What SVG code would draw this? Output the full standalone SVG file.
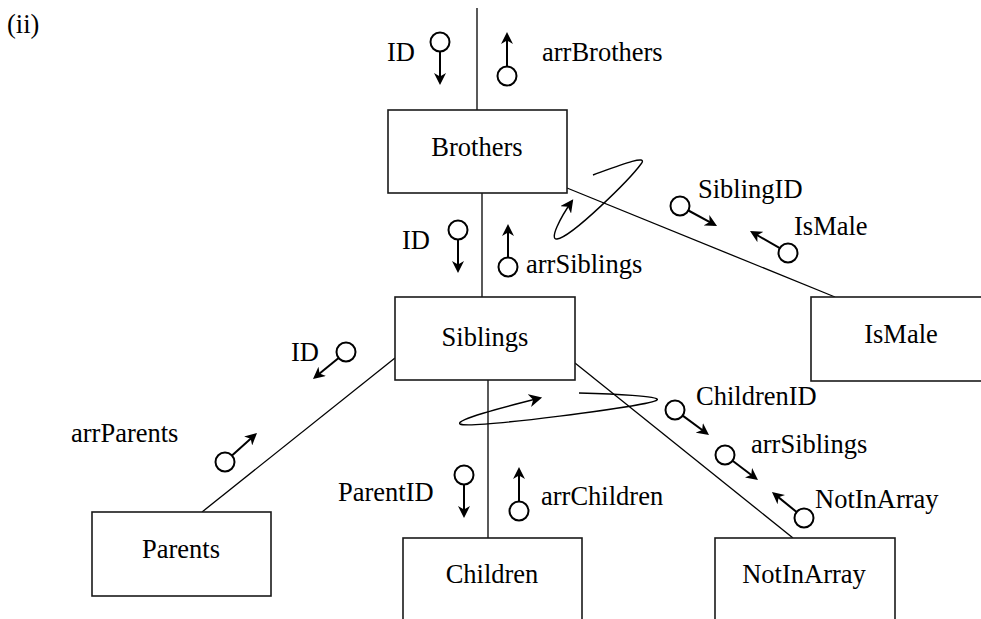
<svg xmlns="http://www.w3.org/2000/svg" width="981" height="619" viewBox="0 0 981 619">
  <style>
    .box { fill: #ffffff; stroke: #1a1a1a; stroke-width: 1.6; }
    .link { fill: none; stroke: #000000; stroke-width: 1.3; }
    .loop { fill: none; stroke: #000000; stroke-width: 1.4; }
    .flow { fill: none; stroke: #000000; stroke-width: 2; marker-end: url(#head); }
    .tail { fill: #ffffff; stroke: #000000; stroke-width: 2; }
    .t { font-family: 'Liberation Serif', 'DejaVu Serif', serif; font-size: 26.5px; fill: #000000; }
    .name { text-anchor: middle; }
  </style>
  <defs>
    <marker id="head" viewBox="0 0 12 12" refX="9" refY="6" markerWidth="12" markerHeight="12" markerUnits="userSpaceOnUse" orient="auto">
      <path d="M0,0 L12,6 L0,12 L3.5,6 z" fill="#000000"/>
    </marker>
    <marker id="loophead" viewBox="0 0 12 12" refX="10" refY="6" markerWidth="13" markerHeight="13" markerUnits="userSpaceOnUse" orient="auto">
      <path d="M0,0 L12,6 L0,12 L3.5,6 z" fill="#000000"/>
    </marker>
  </defs>

  <g class="t" font-family="Liberation Serif, DejaVu Serif, serif">
    <text x="7" y="33">(ii)</text>
  </g>

  <!-- structure chart connectors -->
  <g id="connectors">
    <line class="link" x1="477" y1="8" x2="477" y2="110"/>
    <line class="link" x1="482" y1="193" x2="482" y2="297"/>
    <line class="link" x1="567" y1="188" x2="835" y2="297"/>
    <line class="link" x1="395" y1="358" x2="202" y2="512"/>
    <line class="link" x1="488" y1="380" x2="488" y2="538"/>
    <line class="link" x1="575" y1="363" x2="793" y2="538"/>
    <!-- iteration loops -->
    <path class="loop" marker-end="url(#loophead)" d="M593,175 C615,167 650,153 641,164 C630,179 572,237 557,239 C549,240 560,218 572,201"/>
    <path class="loop" marker-end="url(#loophead)" d="M579,393 C612,394 662,396 657,400 C650,406 470,429 460,424 C455,420 500,408 540,398"/>
  </g>

  <!-- data couples -->
  <g id="couples">
    <circle class="tail" cx="440" cy="42" r="9.5"/>
    <line class="flow" x1="440" y1="51.5" x2="440" y2="82"/>
    <circle class="tail" cx="507" cy="76" r="9.5"/>
    <line class="flow" x1="507" y1="66.5" x2="507" y2="35"/>
    <circle class="tail" cx="458" cy="230" r="9.5"/>
    <line class="flow" x1="458" y1="239.5" x2="458" y2="270"/>
    <circle class="tail" cx="508" cy="267" r="9.5"/>
    <line class="flow" x1="508" y1="257.5" x2="508" y2="227"/>
    <circle class="tail" cx="680" cy="206" r="9.5"/>
    <line class="flow" x1="688.4" y1="210.5" x2="714.4" y2="224.6"/>
    <circle class="tail" cx="788" cy="253" r="9.5"/>
    <line class="flow" x1="779.8" y1="248.2" x2="752.6" y2="232.5"/>
    <circle class="tail" cx="346" cy="352" r="9.5"/>
    <line class="flow" x1="338.6" y1="358" x2="315.3" y2="377.1"/>
    <circle class="tail" cx="225" cy="462" r="9.5"/>
    <line class="flow" x1="232" y1="455.6" x2="254.8" y2="435"/>
    <circle class="tail" cx="464" cy="475" r="9.5"/>
    <line class="flow" x1="464" y1="484.5" x2="464" y2="515"/>
    <circle class="tail" cx="519" cy="511" r="9.5"/>
    <line class="flow" x1="519" y1="501.5" x2="519" y2="470"/>
    <circle class="tail" cx="675" cy="410" r="9.5"/>
    <line class="flow" x1="682.7" y1="415.6" x2="706.6" y2="433.2"/>
    <circle class="tail" cx="725" cy="455" r="9.5"/>
    <line class="flow" x1="732.6" y1="460.7" x2="755.6" y2="478.2"/>
    <circle class="tail" cx="804" cy="518" r="9.5"/>
    <line class="flow" x1="796.6" y1="512" x2="774.3" y2="493.9"/>
    <g class="t" font-family="Liberation Serif, DejaVu Serif, serif">
      <text x="387" y="61">ID</text>
      <text x="542" y="61">arrBrothers</text>
      <text x="402" y="249">ID</text>
      <text x="526" y="273">arrSiblings</text>
      <text x="698" y="198">SiblingID</text>
      <text x="794" y="235">IsMale</text>
      <text x="291" y="361">ID</text>
      <text x="71" y="442">arrParents</text>
      <text x="338" y="501">ParentID</text>
      <text x="541" y="505">arrChildren</text>
      <text x="696" y="405">ChildrenID</text>
      <text x="751" y="453">arrSiblings</text>
      <text x="815" y="508">NotInArray</text>
    </g>
  </g>

  <!-- modules -->
  <g id="brothers">
    <rect class="box" x="388" y="110" width="179" height="83"/>
    <text class="t name" x="477" y="156">Brothers</text>
  </g>
  <g id="siblings">
    <rect class="box" x="395" y="297" width="180" height="83"/>
    <text class="t name" x="485" y="346">Siblings</text>
  </g>
  <g id="ismale">
    <rect class="box" x="811" y="297" width="180" height="84"/>
    <text class="t name" x="901" y="343">IsMale</text>
  </g>
  <g id="parents">
    <rect class="box" x="92" y="512" width="179" height="84"/>
    <text class="t name" x="181" y="558">Parents</text>
  </g>
  <g id="children">
    <rect class="box" x="403" y="538" width="179" height="100"/>
    <text class="t name" x="492" y="583">Children</text>
  </g>
  <g id="notinarray">
    <rect class="box" x="715" y="538" width="180" height="100"/>
    <text class="t name" x="804" y="583">NotInArray</text>
  </g>
</svg>
